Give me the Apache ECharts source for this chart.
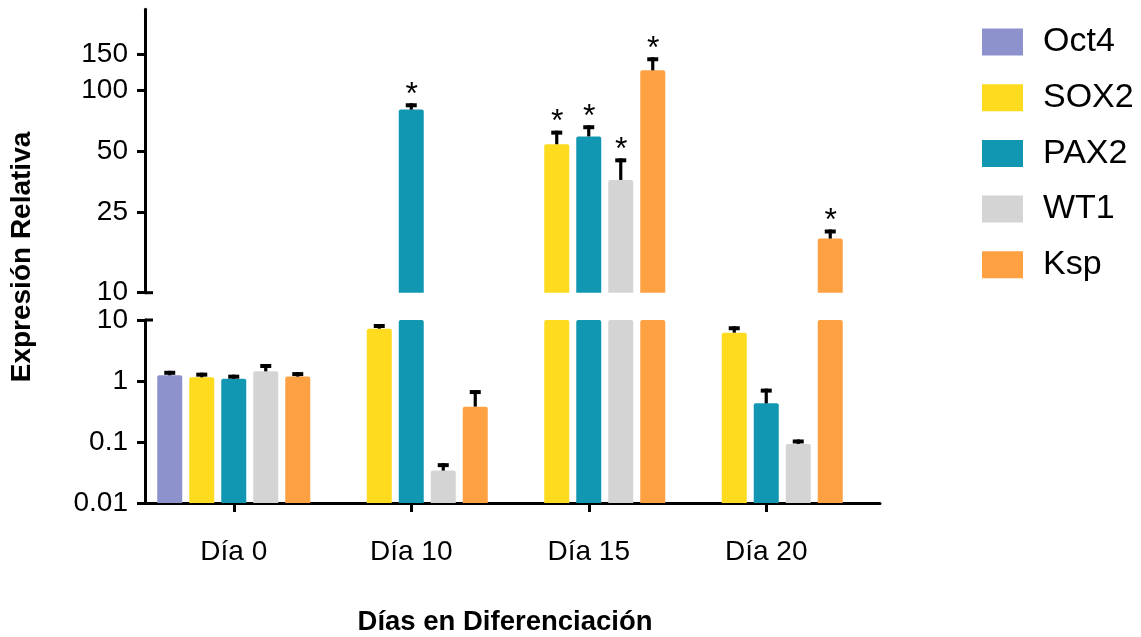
<!DOCTYPE html>
<html>
<head>
<meta charset="utf-8">
<script src="https://cdn.jsdelivr.net/npm/echarts@6/dist/echarts.min.js"></script>
<style>
  html, body { margin: 0; padding: 0; background: #ffffff; }
  #chart { width: 1141px; height: 637px; }
</style>
</head>
<body>
<div id="chart"></div>
<script>
// ---- data -------------------------------------------------------------
const days = ['Día 0', 'Día 10', 'Día 15', 'Día 20'];
const genes = ['Oct4', 'SOX2', 'PAX2', 'WT1', 'Ksp'];
const geneColors = ['#8E92CC', '#FEDB1F', '#1197B2', '#D4D4D4', '#FEA142'];

// mean relative expression per day (null = no bar)
const oct4 = [1.24, null, null, null];
const sox2 = [1.15, 7.2, 54, 6.2];
const pax2 = [1.09, 80, 59, 0.43];
const wt1  = [1.44, 0.034, 36, 0.093];
const ksp  = [1.18, 0.38, 125, 18.5];

// top of each error bar (mean + SEM)
const oct4Err = [1.47, null, null, null];
const sox2Err = [1.37, 8.6, 63, 7.9];
const pax2Err = [1.27, 86, 67, 0.75];
const wt1Err  = [1.9, 0.045, 46, 0.11];
const kspErr  = [1.4, 0.71, 145, 20.5];

// significance (asterisk above the error bar)
const oct4Sig = [false, false, false, false];
const sox2Sig = [false, false, true, false];
const pax2Sig = [false, true, true, false];
const wt1Sig  = [false, false, true, false];
const kspSig  = [false, false, true, true];

const upperTicks = [10, 25, 50, 100, 150];
const lowerTicks = [0.01, 0.1, 1, 10];
const BREAK_VALUE = 10;

// ---- layout -----------------------------------------------------------
const means = [oct4, sox2, pax2, wt1, ksp];
const tops = [oct4Err, sox2Err, pax2Err, wt1Err, kspErr];
const sigs = [oct4Sig, sox2Sig, pax2Sig, wt1Sig, kspSig];

const FONT = '"Liberation Sans", Arial, sans-serif';
const GRID_LEFT = 145;
const GRID_W = 710;
const AXIS_W = 735;
const BAR_W = 25;
const BAR_GAP = 0.28;
const LINE_W = 3;

const chart = echarts.init(document.getElementById('chart'), null, { renderer: 'canvas' });

const axisLineStyle = { color: '#000', width: LINE_W };
const yLabel = { color: '#000', fontSize: 28, fontFamily: FONT, margin: 17 };

// error bars + asterisks; each grid draws the marks whose mean lies in its range
function errorItems(upper) {
  const items = [];
  genes.forEach((g, gi) => {
    days.forEach((d, di) => {
      const m = means[gi][di];
      if (m == null) return;
      if (upper ? m < BREAK_VALUE : m >= BREAK_VALUE) return;
      items.push([di, m, tops[gi][di], gi, sigs[gi][di] ? 1 : 0]);
    });
  });
  return items;
}

function renderErrorBar(params, api) {
  const di = api.value(0);
  const base = api.coord([di, api.value(1)]);
  const top = api.coord([di, api.value(2)]);
  const gi = api.value(3);
  const x = base[0] + (gi - (genes.length - 1) / 2) * BAR_W * (1 + BAR_GAP);
  const children = [
    { type: 'rect', shape: { x: x - 1.6, y: top[1], width: 3.2, height: base[1] - top[1] }, style: { fill: '#000' } },
    { type: 'rect', shape: { x: x - 5.5, y: top[1], width: 11, height: 4 }, style: { fill: '#000' } }
  ];
  if (api.value(4)) {
    children.push({
      type: 'text', x: x + 0.5, y: top[1] - 8,
      style: { text: '*', fill: '#000', font: '32px ' + FONT, textAlign: 'center', textVerticalAlign: 'middle' }
    });
  }
  return { type: 'group', children };
}

const series = [];
genes.forEach((g, gi) => {
  const style = { color: geneColors[gi], borderRadius: [2, 2, 0, 0] };
  series.push({
    name: g, type: 'bar', xAxisIndex: 0, yAxisIndex: 0,
    barWidth: BAR_W, barGap: (BAR_GAP * 100) + '%',
    data: means[gi].map(v => (v != null && v >= BREAK_VALUE ? v : null)),
    itemStyle: style, clip: true, silent: true
  });
  series.push({
    name: g, type: 'bar', xAxisIndex: 1, yAxisIndex: 1,
    barWidth: BAR_W, barGap: (BAR_GAP * 100) + '%',
    data: means[gi],
    itemStyle: style, clip: true, silent: true
  });
});
series.push({
  type: 'custom', xAxisIndex: 0, yAxisIndex: 0, renderItem: renderErrorBar,
  data: errorItems(true), encode: { x: 0, y: 1 }, clip: false, silent: true, z: 5
});
series.push({
  type: 'custom', xAxisIndex: 1, yAxisIndex: 1, renderItem: renderErrorBar,
  data: errorItems(false), encode: { x: 0, y: 1 }, clip: false, silent: true, z: 5
});

const option = {
  animation: false,
  backgroundColor: '#ffffff',
  textStyle: { fontFamily: FONT },
  legend: {
    orient: 'vertical', left: 982, top: 25,
    itemWidth: 41, itemHeight: 27, itemGap: 21.7,
    icon: 'rect', selectedMode: false, padding: 0,
    data: genes,
    textStyle: { fontSize: 34, color: '#000', fontFamily: FONT, padding: [0, 0, 0, 15] }
  },
  grid: [
    { left: GRID_LEFT, width: GRID_W, top: 9.3, height: 283.4 },
    { left: GRID_LEFT, width: GRID_W, top: 320, height: 183.3 },
    { left: GRID_LEFT, width: AXIS_W, top: 320, height: 183.3 }
  ],
  xAxis: [
    { gridIndex: 0, type: 'category', data: days, show: false },
    {
      gridIndex: 1, type: 'category', data: days,
      axisLine: { show: false },
      axisTick: { show: true, alignWithLabel: true, length: 9, lineStyle: axisLineStyle },
      axisLabel: { color: '#000', fontSize: 28, fontFamily: FONT, margin: 35 },
      name: 'Días en Diferenciación', nameLocation: 'middle', nameGap: 105,
      nameTextStyle: { color: '#000', fontSize: 27.5, fontWeight: 'bold', fontFamily: FONT, padding: [0, 0, 0, 10] }
    },
    {
      gridIndex: 2, type: 'value', min: 0, max: 1,
      axisLine: { show: true, lineStyle: axisLineStyle },
      axisTick: { show: false }, axisLabel: { show: false }, splitLine: { show: false }
    }
  ],
  yAxis: [
    {
      gridIndex: 0, type: 'log', min: 10, max: 250, startValue: 10,
      axisLine: { show: true, lineStyle: axisLineStyle },
      axisTick: { show: true, length: 8, lineStyle: axisLineStyle, customValues: upperTicks },
      axisLabel: Object.assign({ customValues: upperTicks }, yLabel),
      splitLine: { show: false }
    },
    {
      gridIndex: 1, type: 'log', min: 0.01, max: 10, startValue: 0.01,
      axisLine: { show: true, lineStyle: axisLineStyle },
      axisTick: { show: true, length: 8, lineStyle: axisLineStyle, customValues: lowerTicks },
      axisLabel: Object.assign({ customValues: lowerTicks, formatter: v => String(+v) }, yLabel),
      splitLine: { show: false }
    },
    { gridIndex: 2, type: 'value', show: false }
  ],
  graphic: [
    {
      id: 'yTitle', type: 'text', x: 22, y: 257, rotation: Math.PI / 2,
      style: { text: 'Expresión Relativa', font: 'bold 28px ' + FONT, fill: '#000', textAlign: 'center', textVerticalAlign: 'middle' }
    }
  ],
  series
};

chart.setOption(option);

// inward halves of the break marks at the axis break
const yUp = chart.convertToPixel({ yAxisIndex: 0 }, BREAK_VALUE);
const yLow = chart.convertToPixel({ yAxisIndex: 1 }, BREAK_VALUE);
chart.setOption({
  graphic: [
    { id: 'breakUp', type: 'line', shape: { x1: GRID_LEFT, y1: yUp, x2: GRID_LEFT + 8, y2: yUp }, style: { stroke: '#000', lineWidth: LINE_W } },
    { id: 'breakLow', type: 'line', shape: { x1: GRID_LEFT, y1: yLow, x2: GRID_LEFT + 8, y2: yLow }, style: { stroke: '#000', lineWidth: LINE_W } }
  ]
});
</script>
</body>
</html>
